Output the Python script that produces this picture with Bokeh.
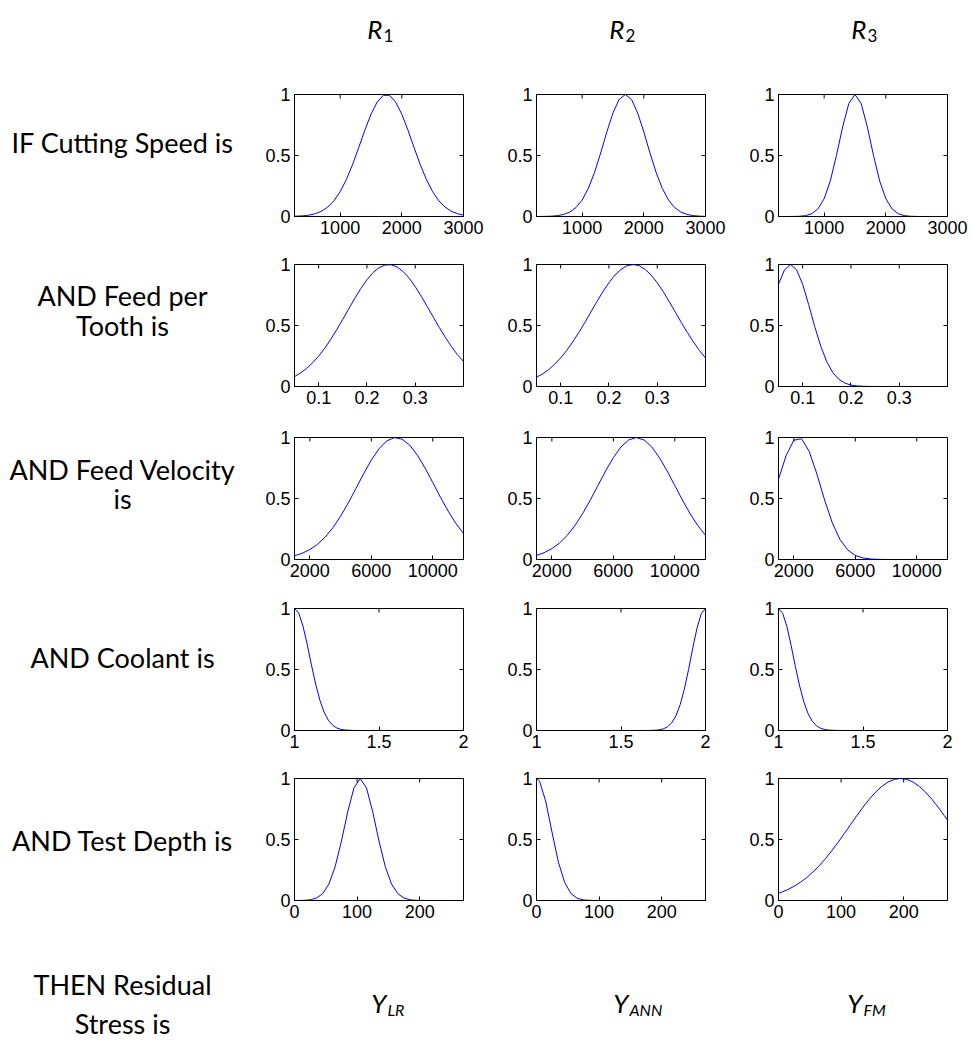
from bokeh.plotting import figure
from bokeh.layouts import column, row
from bokeh.models import Range1d, FixedTicker
from bokeh.embed import file_html
from bokeh.resources import INLINE
from bokeh.core.properties import value

# ---------------- data (membership values) ----------------
x_speed = [260, 400, 500, 600, 700, 800, 900, 1000, 1100, 1200, 1300, 1400, 1500, 1600,
           1700, 1800, 1900, 2000, 2100, 2200, 2300, 2400, 2500, 2600, 2700, 2800, 2900, 3000]
speed_r1 = [0.0019, 0.0057, 0.0119, 0.0235, 0.0439, 0.0774, 0.129, 0.203, 0.302, 0.424, 0.563,
            0.707, 0.838, 0.938, 0.993, 0.993, 0.938, 0.838, 0.707, 0.563, 0.424, 0.302, 0.203,
            0.129, 0.0774, 0.0439, 0.0235, 0.0119]
speed_r2 = [0.0002, 0.001, 0.0028, 0.0072, 0.0169, 0.0367, 0.0734, 0.135, 0.230, 0.360, 0.520,
            0.693, 0.849, 0.960, 1.0, 0.960, 0.849, 0.693, 0.520, 0.360, 0.230, 0.135, 0.0734,
            0.0367, 0.0169, 0.0072, 0.0028, 0.001]
speed_r3 = [0.0, 0.0001, 0.0005, 0.002, 0.0073, 0.0231, 0.0628, 0.146, 0.292, 0.501, 0.735,
            0.926, 1.0, 0.926, 0.735, 0.501, 0.292, 0.146, 0.0628, 0.0231, 0.0073, 0.002, 0.0005,
            0.0001, 0.0, 0.0, 0.0, 0.0]

x_feed = [0.05, 0.0625, 0.075, 0.0875, 0.1, 0.1125, 0.125, 0.1375, 0.15, 0.1625, 0.175, 0.1875,
          0.2, 0.2125, 0.225, 0.2375, 0.25, 0.2625, 0.275, 0.2875, 0.3, 0.3125, 0.325, 0.3375,
          0.35, 0.3625, 0.375, 0.3875, 0.4]
feed_r1 = [0.081, 0.111, 0.148, 0.194, 0.249, 0.313, 0.386, 0.466, 0.551, 0.638, 0.723, 0.804,
           0.875, 0.933, 0.974, 0.996, 0.998, 0.980, 0.942, 0.888, 0.819, 0.740, 0.655, 0.568,
           0.483, 0.402, 0.327, 0.261, 0.205]
feed_r2 = [0.076, 0.103, 0.138, 0.182, 0.234, 0.295, 0.365, 0.442, 0.524, 0.610, 0.695, 0.777,
           0.851, 0.913, 0.960, 0.990, 1.0, 0.990, 0.960, 0.913, 0.851, 0.777, 0.695, 0.610,
           0.524, 0.442, 0.365, 0.295, 0.234]
feed_r3 = [0.838, 0.957, 1.0, 0.957, 0.838, 0.671, 0.492, 0.330, 0.203, 0.114, 0.0587, 0.0277,
           0.0119, 0.0047, 0.0017, 0.0006, 0.0002, 0.0, 0.0, 0.0, 0.0, 0.0, 0.0, 0.0, 0.0, 0.0,
           0.0, 0.0, 0.0]

x_vel = [1000, 1500, 2000, 2500, 3000, 3500, 4000, 4500, 5000, 5500, 6000, 6500, 7000, 7500,
         8000, 8500, 9000, 9500, 10000, 10500, 11000, 11500, 12000]
vel_r1 = [0.0307, 0.051, 0.0813, 0.125, 0.184, 0.261, 0.355, 0.464, 0.582, 0.703, 0.815, 0.908,
          0.972, 0.999, 0.987, 0.937, 0.855, 0.749, 0.631, 0.510, 0.397, 0.296, 0.2125]
vel_r2 = [0.034, 0.0561, 0.0889, 0.135, 0.198, 0.278, 0.375, 0.487, 0.607, 0.726, 0.835, 0.923,
          0.980, 1.0, 0.980, 0.923, 0.835, 0.726, 0.607, 0.487, 0.375, 0.278, 0.198]
vel_r3 = [0.658, 0.853, 0.978, 0.990, 0.886, 0.700, 0.488, 0.301, 0.164, 0.0789, 0.0335, 0.0126,
          0.0042, 0.0012, 0.0003, 0.0, 0.0, 0.0, 0.0, 0.0, 0.0, 0.0, 0.0]

x_cool = [1.0, 1.025, 1.05, 1.075, 1.1, 1.125, 1.15, 1.175, 1.2, 1.225, 1.25, 1.275, 1.3, 1.35,
          1.4, 1.5, 1.6, 1.65, 1.7, 1.725, 1.75, 1.775, 1.8, 1.825, 1.85, 1.875, 1.9, 1.925,
          1.95, 1.975, 2.0]
cool_r1 = [1.0, 0.962, 0.857, 0.707, 0.539, 0.381, 0.249, 0.151, 0.0847, 0.0439, 0.0211, 0.0094,
           0.0039, 0.0005, 0.0, 0.0, 0.0, 0.0, 0.0, 0.0, 0.0, 0.0, 0.0, 0.0, 0.0, 0.0, 0.0, 0.0,
           0.0, 0.0, 0.0]
cool_r2 = [0.0, 0.0, 0.0, 0.0, 0.0, 0.0, 0.0, 0.0, 0.0, 0.0, 0.0, 0.0, 0.0, 0.0, 0.0, 0.0, 0.0,
           0.0002, 0.002, 0.0053, 0.0132, 0.0301, 0.0628, 0.120, 0.211, 0.339, 0.501, 0.678,
           0.841, 0.958, 1.0]
cool_r3 = [1.0, 0.960, 0.851, 0.695, 0.524, 0.365, 0.234, 0.138, 0.0756, 0.0381, 0.0177, 0.0076,
           0.003, 0.0004, 0.0, 0.0, 0.0, 0.0, 0.0, 0.0, 0.0, 0.0, 0.0, 0.0, 0.0, 0.0, 0.0, 0.0,
           0.0, 0.0, 0.0]

x_depth = [0, 5, 15, 25, 35, 45, 55, 65, 75, 85, 95, 105, 115, 125, 135, 145, 155, 165, 175, 185,
           195, 205, 215, 225, 235, 245, 255, 265, 270]
depth_r1 = [0.0001, 0.0003, 0.0015, 0.006, 0.0198, 0.0561, 0.135, 0.278, 0.487, 0.726, 0.923,
            1.0, 0.923, 0.726, 0.487, 0.278, 0.135, 0.0561, 0.0198, 0.006, 0.0015, 0.0003,
            0.0001, 0.0, 0.0, 0.0, 0.0, 0.0, 0.0]
depth_r2 = [1.0, 0.977, 0.808, 0.554, 0.314, 0.148, 0.0573, 0.0184, 0.0049, 0.0011, 0.0002, 0.0,
            0.0, 0.0, 0.0, 0.0, 0.0, 0.0, 0.0, 0.0, 0.0, 0.0, 0.0, 0.0, 0.0, 0.0, 0.0, 0.0, 0.0]
depth_r3 = [0.0592, 0.0683, 0.0899, 0.117, 0.149, 0.188, 0.233, 0.285, 0.343, 0.407, 0.475,
            0.548, 0.621, 0.695, 0.765, 0.830, 0.888, 0.935, 0.971, 0.993, 1.0, 0.993, 0.971,
            0.935, 0.888, 0.830, 0.765, 0.695, 0.658]

x_ranges = [(260, 3000), (0.05, 0.4), (1000, 12000), (1.0, 2.0), (0, 270)]
x_ticks = [[1000, 2000, 3000], [0.1, 0.2, 0.3], [2000, 6000, 10000], [1, 1.5, 2], [0, 100, 200]]
x_tick_labels = [["1000", "2000", "3000"], ["0.1", "0.2", "0.3"], ["2000", "6000", "10000"],
                 ["1", "1.5", "2"], ["0", "100", "200"]]
y_ticks = [0, 0.5, 1]
y_tick_labels = ["0", "0.5", "1"]

row_labels = [["IF Cutting Speed is"], ["AND Feed per", "Tooth is"],
              ["AND Feed Velocity", "is"], ["AND Coolant is"], ["AND Test Depth is"]]
footer_label = ["THEN Residual", "Stress is"]
rule_names = ["R", "R", "R"]
rule_subs = ["1", "2", "3"]
out_names = ["Y", "Y", "Y"]
out_subs = ["LR", "ANN", "FM"]

rows_x = [x_speed, x_feed, x_vel, x_cool, x_depth]
rows_y = [[speed_r1, speed_r2, speed_r3], [feed_r1, feed_r2, feed_r3],
          [vel_r1, vel_r2, vel_r3], [cool_r1, cool_r2, cool_r3],
          [depth_r1, depth_r2, depth_r3]]

# ---------------- layout geometry ----------------
LABEL_W = 254
COL_W = [242, 242, 235]
COL_RIGHT = [33, 33, 26]
FRAME_W = 169
FRAME_H = 122
ROW_H = [176, 173, 171, 170, 173]
ROW_TOP = [22, 16, 16, 16, 16]
ROW_BOT = [32, 35, 33, 32, 35]
HEADER_H = 72
FOOTER_H = 107
TOTAL_W = LABEL_W + sum(COL_W)
TICK_LEN = 4

TICK_FONT = "Liberation Sans"
TEXT_FONT = "Lato"


def style_axis(ax, ticks, labels):
    ax.ticker = FixedTicker(ticks=ticks)
    ax.major_label_overrides = {t: l for t, l in zip(ticks, labels)}
    ax.major_tick_in = TICK_LEN
    ax.major_tick_out = 0
    ax.minor_tick_line_color = None
    ax.axis_line_color = "black"
    ax.major_tick_line_color = "black"
    ax.major_label_standoff = 4
    ax.major_label_text_font = TICK_FONT
    ax.major_label_text_color = "black"
    ax.major_label_text_font_size = "18px"


def make_panel(r, c):
    x0, x1 = x_ranges[r]
    p = figure(width=COL_W[c], height=ROW_H[r],
               x_range=Range1d(x0, x1), y_range=Range1d(0, 1),
               toolbar_location=None, output_backend="svg",
               min_border_left=40, min_border_right=COL_RIGHT[c],
               min_border_top=ROW_TOP[r], min_border_bottom=ROW_BOT[r])
    p.xgrid.visible = False
    p.ygrid.visible = False
    p.outline_line_color = "black"
    p.outline_line_width = 1
    p.background_fill_color = "white"
    p.border_fill_color = "white"
    style_axis(p.xaxis[0], x_ticks[r], x_tick_labels[r])
    style_axis(p.yaxis[0], y_ticks, y_tick_labels)
    # inward ticks on the top and right edges of the box (MATLAB style)
    dy = TICK_LEN / FRAME_H
    dx = TICK_LEN / FRAME_W * (x1 - x0)
    xt = x_ticks[r]
    p.segment(x0=xt, y0=[1] * len(xt), x1=xt, y1=[1 - dy] * len(xt),
              line_color="black", line_width=1)
    p.segment(x0=[x1] * len(y_ticks), y0=y_ticks, x1=[x1 - dx] * len(y_ticks), y1=y_ticks,
              line_color="black", line_width=1)
    p.line(rows_x[r], rows_y[r][c], line_color="#0000ff", line_width=1)
    return p


def blank(width, height):
    p = figure(width=width, height=height, x_range=Range1d(0, width),
               y_range=Range1d(0, height), toolbar_location=None, output_backend="svg",
               x_axis_type=None, y_axis_type=None, min_border=0)
    p.outline_line_color = None
    p.xgrid.visible = False
    p.ygrid.visible = False
    return p


def add_text(p, x, y, txt, size, align="center", style="normal"):
    p.text(x=[x], y=[y], text=[txt], text_font=value(TEXT_FONT), text_font_size=size,
           text_align=align, text_baseline="middle", text_color="black",
           text_font_style=style)


# header with rule names
header = blank(TOTAL_W, HEADER_H)
head_x = [382, 624, 866]
for i in range(3):
    add_text(header, head_x[i], 44, rule_names[i], "26px", align="right", style="italic")
    add_text(header, head_x[i] + 1, 37, rule_subs[i], "17px", align="left")

# row label figures
label_y = [[107], [129, 87], [126, 85], [102], [85]]
rows = [header]
for r in range(5):
    lab = blank(LABEL_W, ROW_H[r])
    for txt, yy in zip(row_labels[r], label_y[r]):
        add_text(lab, 122, yy, txt, "27px")
    rows.append(row(lab, *[make_panel(r, c) for c in range(3)], spacing=0))

# footer with output names
footer = blank(TOTAL_W, FOOTER_H)
add_text(footer, 122, 58, footer_label[0], "27px")
add_text(footer, 122, 19, footer_label[1], "27px")
foot_x = [386, 628, 862]
for i in range(3):
    add_text(footer, foot_x[i], 40, out_names[i], "26px", align="right", style="italic")
    add_text(footer, foot_x[i] + 1, 33, out_subs[i], "16px", align="left", style="italic")
rows.append(footer)

layout = column(*rows, spacing=0)
open("out.html", "w").write(file_html(layout, INLINE))
